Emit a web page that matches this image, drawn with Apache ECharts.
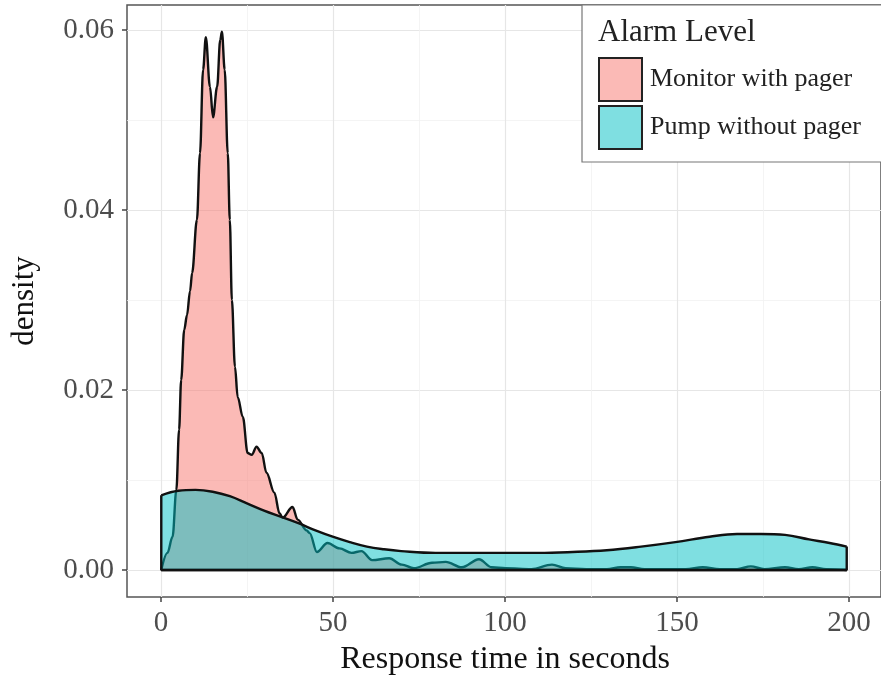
<!DOCTYPE html>
<html>
<head>
<meta charset="utf-8">
<script src="https://cdn.jsdelivr.net/npm/echarts@6/dist/echarts.min.js"></script>
<style>html,body{margin:0;padding:0;background:#fff}#c{width:881px;height:676px}</style>
</head>
<body>
<div id="c"></div>
<script>
// ---- data ----
const seriesNames = ['Monitor with pager', 'Pump without pager'];
const monitorX = [0, 1.8, 3.3, 4.4, 5.2, 5.8, 6.7, 7.5, 8.4, 9.0, 10.4, 11.3, 12.2, 13.0, 14.2, 15.1, 16.3, 17.2, 17.7, 18.5, 19.4, 20.0, 20.6, 21.5, 22.3, 23.8, 25.2, 26.4, 27.8, 29.3, 30.7, 33.0, 34.5, 35.4, 38.3, 39.8, 42.4, 43.3, 45.4, 48.5, 52.0, 55.5, 58.4, 61.5, 66.5, 70.2, 73.7, 79.0, 83.0, 87.7, 92.7, 96.4, 100.5, 108, 114, 118, 124, 130, 134, 137, 141, 153, 158, 163, 168, 172, 176, 182, 186, 190, 194, 200];
const monitorY = [0, 0.0019, 0.0037, 0.0089, 0.0156, 0.0211, 0.0267, 0.0283, 0.0310, 0.0330, 0.0389, 0.0463, 0.0556, 0.0592, 0.0537, 0.0503, 0.0537, 0.0589, 0.0598, 0.0556, 0.0463, 0.0389, 0.0300, 0.0226, 0.0192, 0.0170, 0.0130, 0.0128, 0.0137, 0.0130, 0.0108, 0.0086, 0.0063, 0.0058, 0.0070, 0.0056, 0.0044, 0.0041, 0.0020, 0.0030, 0.0024, 0.0019, 0.0021, 0.0011, 0.0013, 0.0006, 0.0002, 0.0008, 0.0009, 0.0003, 0.0012, 0.0003, 0.0002, 0.0001, 0.0006, 0.0002, 0.0001, 0.0001, 0.0003, 0.0003, 0.0001, 0.0001, 0.0003, 0.0001, 0.0001, 0.0004, 0.0001, 0.0003, 0.0001, 0.0003, 0.0001, 0];
const pumpX = [0, 5, 10, 15, 20, 25, 30, 35, 40, 45, 50, 55, 60, 65, 70, 80, 90, 100, 110, 120, 130, 140, 150, 160, 168, 175, 182, 189, 195, 200];
const pumpY = [0.0083, 0.0088, 0.0089, 0.0087, 0.0082, 0.0074, 0.0066, 0.0059, 0.0052, 0.0044, 0.0037, 0.0031, 0.0026, 0.0023, 0.0021, 0.0019, 0.0019, 0.0019, 0.0019, 0.0020, 0.0022, 0.0026, 0.0031, 0.0037, 0.0040, 0.0040, 0.0039, 0.0034, 0.0030, 0.0026];
const xTickValues = [0, 50, 100, 150, 200];
const yTickValues = [0, 0.02, 0.04, 0.06];
const legendTitle = 'Alarm Level';
const xTitle = 'Response time in seconds';
const yTitle = 'density';

// ---- styling ----
const FONT = 'Liberation Serif';
const pinkFill = 'rgba(248,118,109,0.5)';
const cyanFill = 'rgba(0,191,196,0.5)';
const outline = '#111';
const LW = 2.4;

const zip = (xs, ys) => xs.map((x, i) => [x, ys[i]]);
const monitorData = zip(monitorX, monitorY);
const pumpData = zip(pumpX, pumpY);
const n = pumpX.length;
const pumpEdges = [[pumpX[0], pumpY[0]], [pumpX[0], 0], [pumpX[n - 1], 0], [pumpX[n - 1], pumpY[n - 1]]];
const monitorBase = [[monitorX[0], 0], [monitorX[monitorX.length - 1], 0]];

const chart = echarts.init(document.getElementById('c'));
const gridLine = { color: '#e6e6e6', width: 1.2 };
const minorLine = { color: '#f1f1f1', width: 0.8 };

chart.setOption({
  animation: false,
  backgroundColor: '#fff',
  grid: [
    { left: 127, top: 5, width: 756, height: 592, show: true, borderColor: '#555', borderWidth: 1.5, backgroundColor: 'transparent' },
    { left: 161, top: 5, width: 688, height: 592 },
    { left: 127, top: 30, width: 756, height: 540 }
  ],
  xAxis: [
    { gridIndex: 0, type: 'value', min: -10, max: 210, show: false },
    { gridIndex: 1, type: 'value', min: xTickValues[0], max: xTickValues[xTickValues.length - 1], interval: 50,
      axisLine: { show: false },
      axisTick: { show: true, length: 5, lineStyle: { color: '#444', width: 1.5 } },
      axisLabel: { margin: 12, fontFamily: FONT, fontSize: 29, color: '#4d4d4d' },
      splitLine: { show: true, lineStyle: gridLine },
      minorTick: { show: false, splitNumber: 2 },
      minorSplitLine: { show: true, lineStyle: minorLine } },
    { gridIndex: 2, type: 'value', min: 0, max: 1, show: false }
  ],
  yAxis: [
    { gridIndex: 0, type: 'value', min: -0.003, max: 0.062778, show: false },
    { gridIndex: 1, type: 'value', min: 0, max: 1, show: false },
    { gridIndex: 2, type: 'value', min: yTickValues[0], max: yTickValues[yTickValues.length - 1], interval: 0.02,
      axisLine: { show: false },
      axisTick: { show: true, length: 5, lineStyle: { color: '#444', width: 1.5 } },
      axisLabel: { margin: 13, fontFamily: FONT, fontSize: 29, color: '#4d4d4d', formatter: v => v.toFixed(2) },
      splitLine: { show: true, lineStyle: gridLine },
      minorTick: { show: false, splitNumber: 2 },
      minorSplitLine: { show: true, lineStyle: minorLine } }
  ],
  legend: {
    z: 200,
    orient: 'vertical', left: 598, top: 57, padding: 0,
    itemWidth: 43, itemHeight: 43, itemGap: 3,
    icon: 'rect',
    itemStyle: { borderColor: '#222', borderWidth: 2 },
    textStyle: { fontFamily: FONT, fontSize: 26, color: '#222', padding: [0, 0, 0, 3] },
    data: [
      { name: seriesNames[0], itemStyle: { color: pinkFill } },
      { name: seriesNames[1], itemStyle: { color: cyanFill } }
    ]
  },
  graphic: [
    { type: 'rect', z: 150, shape: { x: 582, y: 5, width: 330, height: 157 }, style: { fill: '#fff', stroke: '#777', lineWidth: 1.2 } },
    { type: 'text', z: 210, x: 598, y: 33, style: { text: legendTitle, fontFamily: FONT, fontSize: 31, fill: '#222', textAlign: 'left', textVerticalAlign: 'middle' } },
    { type: 'text', z: 210, x: 505, y: 660, style: { text: xTitle, fontFamily: FONT, fontSize: 32, fill: '#111', textAlign: 'center', textVerticalAlign: 'middle' } },
    { type: 'text', z: 210, x: 25, y: 301, rotation: Math.PI / 2, style: { text: yTitle, fontFamily: FONT, fontSize: 31, fill: '#111', textAlign: 'center', textVerticalAlign: 'middle' } }
  ],
  series: [
    { name: seriesNames[0], type: 'line', z: 2, xAxisIndex: 0, yAxisIndex: 0, data: monitorData,
      smooth: 0.35, smoothMonotone: 'x', symbol: 'none', color: pinkFill,
      lineStyle: { color: outline, width: LW }, areaStyle: { color: pinkFill, opacity: 1 } },
    { name: 'monitorEdge', type: 'line', z: 2, xAxisIndex: 0, yAxisIndex: 0, data: monitorBase,
      symbol: 'none', lineStyle: { color: outline, width: LW } },
    { name: seriesNames[1], type: 'line', z: 3, xAxisIndex: 0, yAxisIndex: 0, data: pumpData,
      smooth: 0.4, symbol: 'none', color: cyanFill,
      lineStyle: { color: outline, width: LW }, areaStyle: { color: cyanFill, opacity: 1 } },
    { name: 'pumpEdge', type: 'line', z: 3, xAxisIndex: 0, yAxisIndex: 0, data: pumpEdges,
      symbol: 'none', lineStyle: { color: outline, width: LW } }
  ]
});
</script>
</body>
</html>
